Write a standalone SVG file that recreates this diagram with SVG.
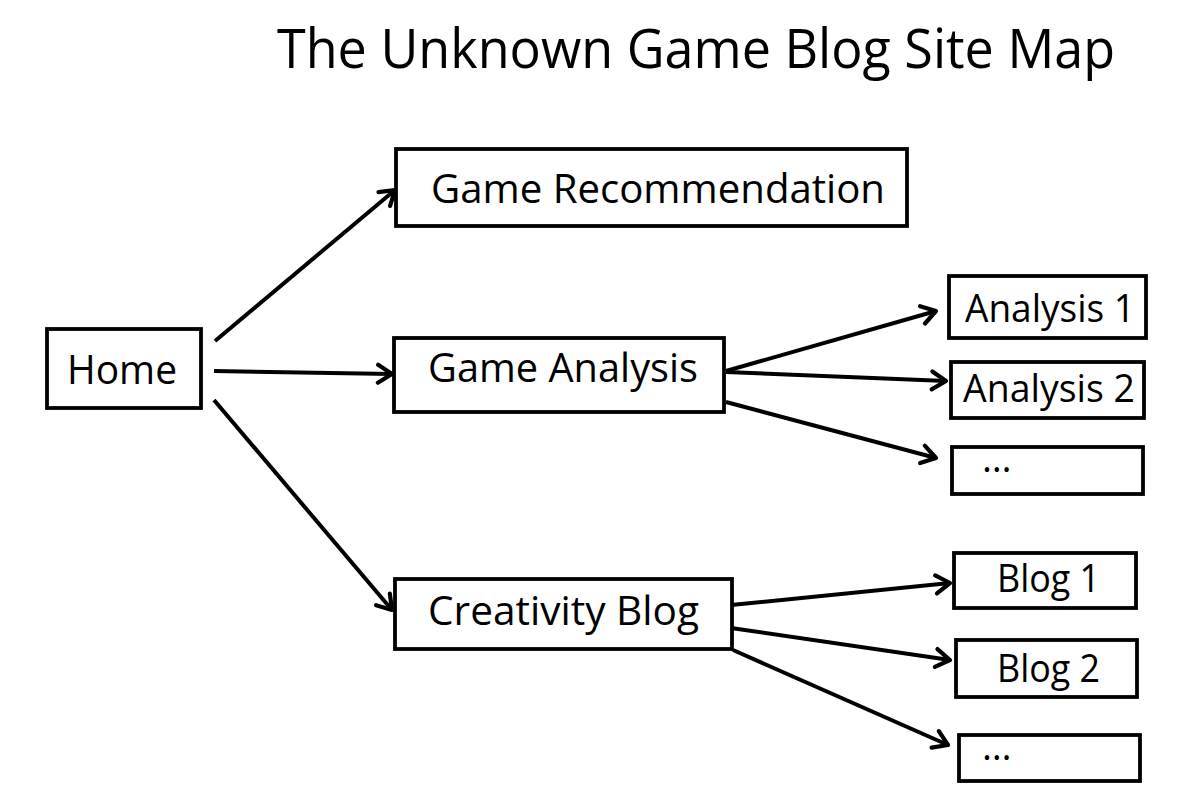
<svg xmlns="http://www.w3.org/2000/svg" width="1194" height="810" viewBox="0 0 1194 810">
<style>
.box{fill:#fff;stroke:#000;stroke-width:3.8}
.t{font-family:"Open Sans","Liberation Sans",sans-serif;fill:#000}
.lbl{font-size:41px}
.sm{font-size:38px}
.edge{stroke:#000;stroke-width:4;fill:none;marker-end:url(#ah)}
</style>
<defs>
<marker id="ah" viewBox="0 0 24 24" refX="20" refY="12" markerWidth="24" markerHeight="24" markerUnits="userSpaceOnUse" orient="auto">
<path d="M6,3 L20,12 L6,21" fill="none" stroke="#000" stroke-width="4.2" stroke-linecap="round" stroke-linejoin="round"/>
</marker>
</defs>
<rect width="1194" height="810" fill="#fff"/>
<text class="t" x="277" y="68" font-size="55" textLength="838" lengthAdjust="spacingAndGlyphs">The Unknown Game Blog Site Map</text>
<g id="connectors">
<line class="edge" x1="215" y1="341" x2="395" y2="190"/>
<line class="edge" x1="214" y1="371" x2="392" y2="374"/>
<line class="edge" x1="214" y1="400" x2="392" y2="610"/>
<line class="edge" x1="726" y1="371" x2="936" y2="311"/>
<line class="edge" x1="726" y1="372" x2="946" y2="381"/>
<line class="edge" x1="726" y1="402" x2="936" y2="458"/>
<line class="edge" x1="731" y1="605" x2="950" y2="583"/>
<line class="edge" x1="731" y1="628" x2="950" y2="660"/>
<line class="edge" x1="733" y1="650" x2="948" y2="745"/>
</g>
<g id="home"><rect class="box" x="47" y="329" width="154" height="79"/><text class="t lbl" x="67" y="384" textLength="110" lengthAdjust="spacingAndGlyphs">Home</text></g>
<g id="game-recommendation"><rect class="box" x="396" y="149" width="511" height="77"/><text class="t lbl" x="431" y="203" textLength="454" lengthAdjust="spacingAndGlyphs">Game Recommendation</text></g>
<g id="game-analysis"><rect class="box" x="394" y="338" width="330" height="74"/><text class="t lbl" x="428" y="382" textLength="270" lengthAdjust="spacingAndGlyphs">Game Analysis</text></g>
<g id="creativity-blog"><rect class="box" x="395" y="579" width="337" height="70"/><text class="t lbl" x="428" y="625" textLength="271" lengthAdjust="spacingAndGlyphs">Creativity Blog</text></g>
<g id="analysis-1"><rect class="box" x="949" y="276" width="197" height="62"/><text class="t sm" x="965" y="322" textLength="170" lengthAdjust="spacingAndGlyphs">Analysis 1</text></g>
<g id="analysis-2"><rect class="box" x="951" y="362" width="193" height="56"/><text class="t sm" x="963" y="402" textLength="172" lengthAdjust="spacingAndGlyphs">Analysis 2</text></g>
<g id="analysis-more"><rect class="box" x="952" y="447" width="191" height="47"/><text class="t sm" x="982" y="472">…</text></g>
<g id="blog-1"><rect class="box" x="954" y="553" width="182" height="55"/><text class="t sm" x="997" y="592" textLength="103" lengthAdjust="spacingAndGlyphs">Blog 1</text></g>
<g id="blog-2"><rect class="box" x="956" y="640" width="181" height="57"/><text class="t sm" x="997" y="682" textLength="103" lengthAdjust="spacingAndGlyphs">Blog 2</text></g>
<g id="blog-more"><rect class="box" x="959" y="735" width="181" height="46"/><text class="t sm" x="982" y="760">…</text></g>
</svg>
